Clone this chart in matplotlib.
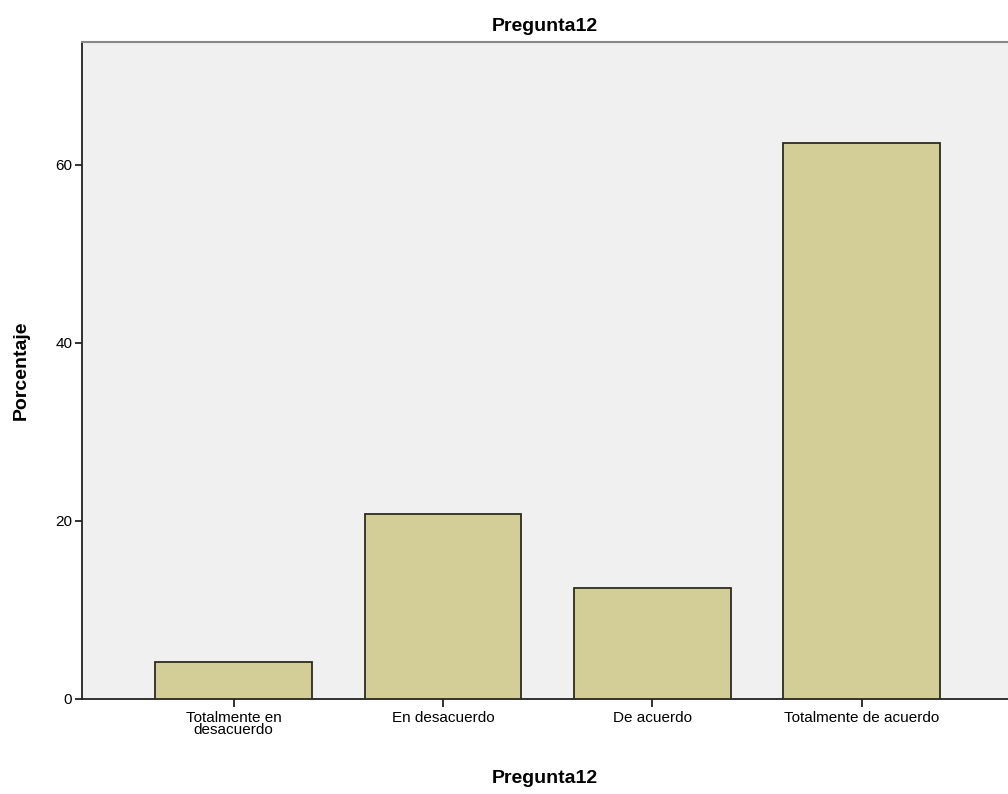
import matplotlib.pyplot as plt
import numpy as np

plt.rcParams['font.family'] = ['Liberation Sans', 'DejaVu Sans']

categorias = ['Totalmente en\ndesacuerdo', 'En desacuerdo', 'De acuerdo', 'Totalmente de acuerdo']
porcentajes = [4.17, 20.83, 12.5, 62.5]

fig = plt.figure(figsize=(10.08, 7.94), dpi=100)
ax = fig.add_axes([82 / 1008, 1 - 699 / 794, 1 - 82 / 1008, (699 - 42) / 794])
ax.set_facecolor('#f0f0f0')

x = np.arange(len(categorias))
ax.bar(x, porcentajes, width=0.75, color='#d3ce97', edgecolor='#2b2b20', linewidth=1.3, zorder=3)

ax.set_xlim(-0.725, 3.70)
ax.set_ylim(0, 73.8)
ax.set_yticks([0, 20, 40, 60])
ax.set_xticks(x)
ax.set_xticklabels(categorias, fontsize=11, linespacing=0.8)
ax.tick_params(axis='y', labelsize=11, length=5, width=1.3, color='#222222', pad=2)
ax.tick_params(axis='x', length=6, width=1.3, color='#222222', pad=3)

ax.spines['right'].set_visible(False)
ax.spines['top'].set_color('#888888')
ax.spines['top'].set_linewidth(1.5)
ax.spines['left'].set_color('#222222')
ax.spines['left'].set_linewidth(1.3)
ax.spines['bottom'].set_color('#222222')
ax.spines['bottom'].set_linewidth(1.3)

ax.set_title('Pregunta12', fontsize=14, fontweight='bold', pad=8)
ax.set_xlabel('Pregunta12', fontsize=14, fontweight='bold')
ax.set_ylabel('Porcentaje', fontsize=14, fontweight='bold')
ax.xaxis.set_label_coords((545 - 82) / 926, -(770 - 699) / 657)
ax.yaxis.set_label_coords(-(82 - 30) / 926, (699 - 370) / 657)

fig.savefig('out.png', dpi=100)
